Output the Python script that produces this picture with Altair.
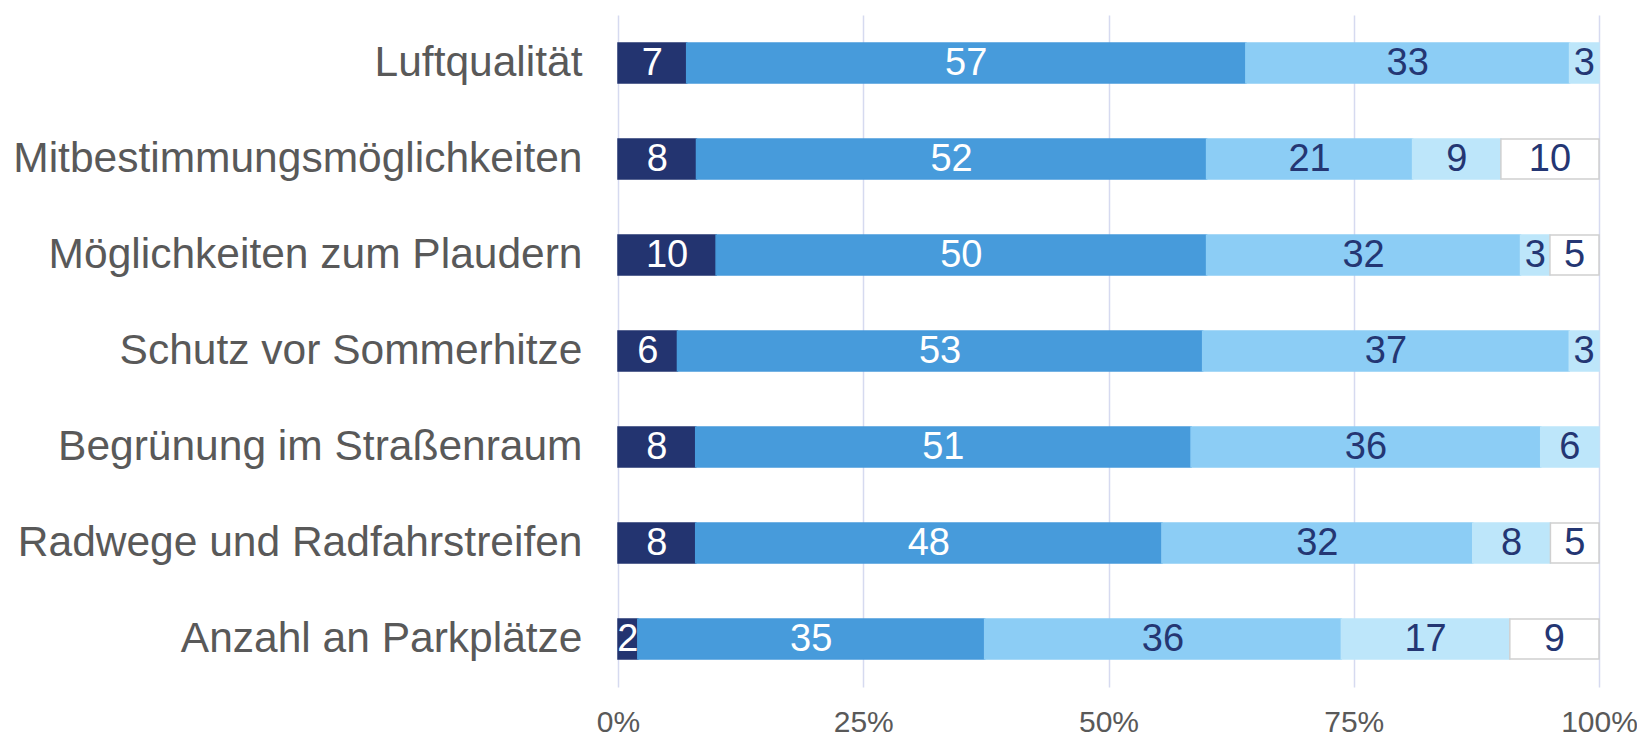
import altair as alt
import pandas as pd

categories = [
    "Luftqualität",
    "Mitbestimmungsmöglichkeiten",
    "Möglichkeiten zum Plaudern",
    "Schutz vor Sommerhitze",
    "Begrünung im Straßenraum",
    "Radwege und Radfahrstreifen",
    "Anzahl an Parkplätze",
]
seg1 = [7, 8, 10, 6, 8, 8, 2]
seg2 = [57, 52, 50, 53, 51, 48, 35]
seg3 = [33, 21, 32, 37, 36, 32, 36]
seg4 = [3, 9, 3, 3, 6, 8, 17]
seg5 = [0, 10, 5, 0, 0, 5, 9]

series = [seg1, seg2, seg3, seg4, seg5]
fills = ["#233470", "#479bdb", "#8ccdf5", "#bde6fa", "#ffffff"]
strokes = ["#233470", "#479bdb", "#8ccdf5", "#bde6fa", "#d0d0d0"]
text_colors = ["#ffffff", "#ffffff", "#243673", "#243673", "#243673"]

rows = []
for si, vals in enumerate(series):
    for ci, cat in enumerate(categories):
        if vals[ci] > 0:
            rows.append({"cat": cat, "seg": si + 1, "v": vals[ci],
                         "tc": text_colors[si]})
df = pd.DataFrame(rows)

base = alt.Chart(df).transform_stack(
    stack="v", groupby=["cat"], as_=["x0", "x1"], offset="normalize",
    sort=[alt.SortField("seg", order="ascending")]
).transform_calculate(mid="(datum.x0 + datum.x1) / 2")

yenc = alt.Y("cat:N", sort=categories, title=None,
             scale=alt.Scale(paddingInner=0.584, paddingOuter=0.292),
             axis=alt.Axis(domain=False, ticks=False, labelFontSize=42.5,
                           labelColor="#595959", labelPadding=36,
                           labelFont="Liberation Sans", labelLimit=800))

bars = base.mark_bar(strokeWidth=1.5).encode(
    x=alt.X("x0:Q", title=None,
            scale=alt.Scale(domain=[0, 1], nice=False),
            axis=alt.Axis(format=".0%", values=[0, 0.25, 0.5, 0.75, 1],
                          domain=False, ticks=False, grid=True,
                          gridColor="#d6daf0", gridWidth=1.5,
                          labelFontSize=30, labelColor="#595959",
                          labelFont="Liberation Sans", labelPadding=20,
                          labelFlush=False)),
    x2="x1:Q",
    y=yenc,
    fill=alt.Fill("seg:O", scale=alt.Scale(domain=[1, 2, 3, 4, 5], range=fills), legend=None),
    stroke=alt.Stroke("seg:O", scale=alt.Scale(domain=[1, 2, 3, 4, 5], range=strokes), legend=None),
)

labels = base.mark_text(fontSize=38, font="Liberation Sans", baseline="middle", align="center", dy=1).encode(
    x="mid:Q",
    y=alt.Y("cat:N", sort=categories),
    text="v:Q",
    color=alt.Color("tc:N", scale=None),
)

chart = (bars + labels).properties(
    width=981, height=672,
    padding={"left": 610, "top": 7, "right": 38, "bottom": 50},
    autosize=alt.AutoSizeParams(type="none"),
).configure_view(stroke=None)

chart.save("out.html", embed_options={"renderer": "svg", "actions": False})
